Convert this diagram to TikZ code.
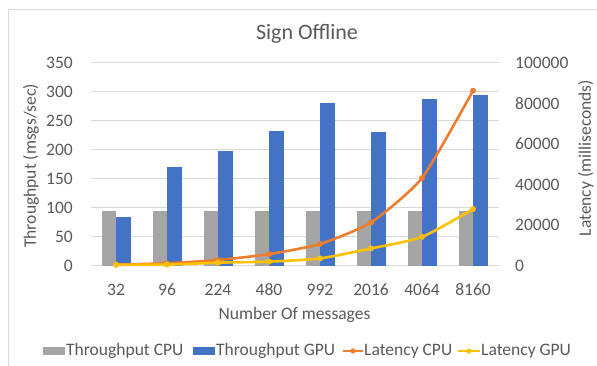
\documentclass[tikz,border=0pt]{standalone}
\usepackage{fontspec}
\setmainfont{Carlito}
\usepackage{tikz}

\definecolor{cpubar}{HTML}{A5A5A5}
\definecolor{gpubar}{HTML}{4472C4}
\definecolor{cpulat}{HTML}{ED7D31}
\definecolor{gpulat}{HTML}{FFC000}
\definecolor{gridgray}{HTML}{D9D9D9}
\definecolor{labelgray}{HTML}{595959}

\begin{document}
\begin{tikzpicture}[x=1pt,y=1pt,
		ticklabel/.style = {text=labelgray, font=\fontsize{17.5}{20}\selectfont, inner sep=0pt},
		axislabel/.style = {ticklabel},
		legendtext/.style = {ticklabel, anchor=base west},
		latline/.style = {line width=2.6pt, line join=round, line cap=round},
		gridline/.style = {gridgray, line width=1pt}
			]
		\useasboundingbox (0,0) rectangle (597,366);
		\draw [gridline] (8,-2) -- (8,356) -- (599,356);

		\node [ticklabel, font=\fontsize{22}{26}\selectfont, anchor=base] (title) at (307,326) {Sign Offline};

		% throughput axis
		\foreach \v in {0,50,...,350} {
			\draw [gridline] (90.5,100.3+0.58*\v) -- (498.5,100.3+0.58*\v);
			\node [ticklabel, anchor=east] (ytick\v) at (73,100.3+0.58*\v) {\v};
		}
		% latency axis
		\foreach \v [count=\i from 0] in {0,20000,40000,60000,80000,100000}
			\node [ticklabel, anchor=west] (rtick\i) at (515,100.3+40.6*\i) {\v};

		\foreach \n/\g [count=\i from 0] in {32/84,96/171,224/198,480/232,992/280,2016/230,4064/288,8160/294} {
			\fill [cpubar] (101.5+51*\i,100.3) rectangle ++(14.5,0.58*95);
			\fill [gpubar] (116+51*\i,100.3) rectangle ++(14.5,0.58*\g);
			\node [ticklabel] (xtick\i) at (116+51*\i,76) {\n};
		}

		\begin{scope}[shift={(0,100.3)}, y=2.03pt]
			\draw [cpulat, latline] plot [smooth, tension=0.35] coordinates {(116,0.5) (167,1.2) (218,2.8) (269,5.7) (320,10.7) (371,21.3) (422,43.2) (473,86.2)};
			\foreach \p in {(116,0.5),(167,1.2),(218,2.8),(269,5.7),(320,10.7),(371,21.3),(422,43.2),(473,86.2)}
				\fill [cpulat] \p circle (3pt);
			\draw [gpulat, latline] plot [smooth, tension=0.4] coordinates {(116,0.5) (167,0.5) (218,1.5) (269,2.0) (320,3.6) (371,8.5) (422,14.2) (473,27.9)};
			\foreach \p in {(116,0.5),(167,0.5),(218,1.5),(269,2.0),(320,3.6),(371,8.5),(422,14.2),(473,27.9)}
				\fill [gpulat] \p circle (3pt);
		\end{scope}

		\node [axislabel, rotate=90] (ylabel) at (31,200) {Throughput (msgs/sec)};
		\node [axislabel, rotate=90] (y2label) at (586,208) {Latency (milliseconds)};
		\node [axislabel, anchor=base] (xlabel) at (294.5,46) {Number Of messages};

		% legend
		\fill [cpubar] (43,11) rectangle (65,19);
		\node [legendtext] (legcpu) at (66,10) {Throughput CPU};
		\fill [gpubar] (193,11) rectangle (215,19);
		\node [legendtext] (leggpu) at (216,10) {Throughput GPU};
		\draw [cpulat, latline, line cap=butt] (343,15) -- (363,15);
		\fill [cpulat] (353,15) circle (2.6pt);
		\node [legendtext] (legcpulat) at (364,10) {Latency CPU};
		\draw [gpulat, latline, line cap=butt] (458,15) -- (480,15);
		\fill [gpulat] (469,15) circle (2.6pt);
		\node [legendtext] (leggpulat) at (481,10) {Latency GPU};

	\end{tikzpicture}
\end{document}
